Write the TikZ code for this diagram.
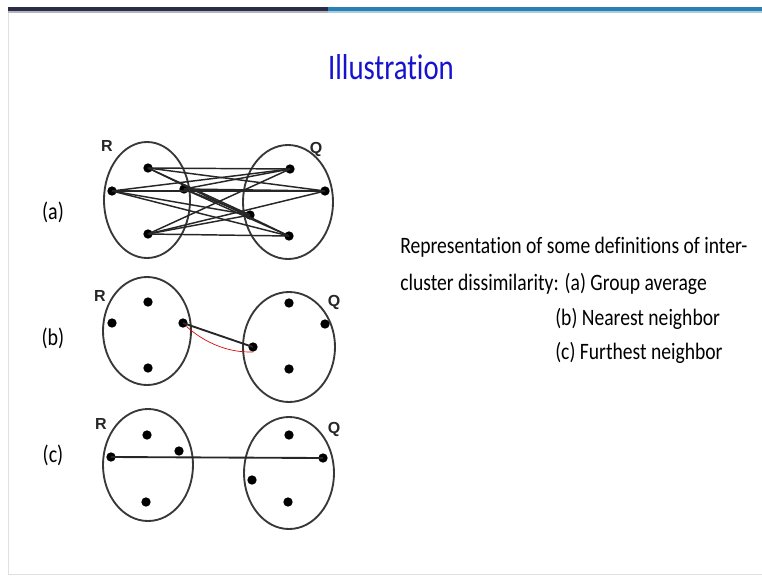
\documentclass[tikz,border=0pt]{standalone}
\usepackage{fontspec}
\setmainfont[Ligatures=NoCommon]{Carlito}
\newfontfamily\clusterfont{Liberation Sans}
\definecolor{titleblue}{RGB}{22,18,205}
\definecolor{bardark}{RGB}{42,44,72}
\definecolor{barblue}{RGB}{42,128,178}
\tikzset{
  dot/.style={circle,fill=black,inner sep=0pt,minimum size=7pt},
  cluster/.style={draw=black!78,line width=1.4pt},
  link/.style={black!85,line width=1.1pt},
  clustername/.style={font=\clusterfont\bfseries\fontsize{12}{14}\selectfont,text=black!85},
  partname/.style={yscale=1.2,transform shape,font=\fontsize{15}{17}\selectfont},
  caption/.style={anchor=base west,inner sep=0pt,yscale=1.2,transform shape,
                  font=\fontsize{14.7}{17}\selectfont}
}
\begin{document}
\begin{tikzpicture}[x=0.75pt,y=-0.75pt]
  \useasboundingbox (0,0) rectangle (762,575);
  % slide frame
  \fill[bardark] (8,7) rectangle (328,11);
  \fill[barblue] (328,7) rectangle (762,11);
  \fill[bardark!35] (8,11) rectangle (328,12.5);
  \fill[barblue!40] (328,11) rectangle (762,12.5);
  \draw[black!12] (8,12.5) -- (8,574) -- (762,574);
  \node[yscale=1.25,transform shape,font=\fontsize{21.6}{26}\selectfont,text=titleblue] (title) at (391,67) {Illustration};

  % (a) group average
  \draw[cluster] (147,200) ellipse [x radius=43, y radius=58];
  \draw[cluster] (288,202) ellipse [x radius=45, y radius=57];
  \foreach \name/\px/\py in {ra1/148/168,ra2/112/191,ra3/184/189,ra4/148/234,
                             qa1/290/169,qa2/325/191,qa3/250/215,qa4/289/236}
    \node[dot] (\name) at (\px,\py) {};
  \foreach \r in {ra1,ra2,ra3,ra4}
    \foreach \q in {qa1,qa2,qa3,qa4}
      \draw[link] (\r.center) -- (\q.center);
  \node[clustername] (ra) at (107,146) {R};
  \node[clustername] (qa) at (316,149) {Q};
  \node[partname] (parta) at (53,212) {(a)};

  % (b) nearest neighbor
  \draw[cluster] (147,331) ellipse [x radius=44, y radius=54];
  \draw[cluster] (289,347) ellipse [x radius=46, y radius=55];
  \foreach \name/\px/\py in {rb1/148/302,rb2/112/323,rb3/183/323,rb4/148/368,
                             qb1/289/303,qb2/325/324,qb3/253/347,qb4/289/369}
    \node[dot] (\name) at (\px,\py) {};
  \draw[link,line width=1.4pt] (rb3.center) -- (qb3.center);
  \draw[red!85!black,line width=0.5pt] (rb3.south east) .. controls +(18,16) and +(-25,1) .. (qb3.south);
  \node[clustername] (rb) at (100,296) {R};
  \node[clustername] (qb) at (334,302) {Q};
  \node[partname] (partb) at (53,338) {(b)};

  % (c) furthest neighbor
  \draw[cluster] (148,465) ellipse [x radius=45, y radius=56];
  \draw[cluster] (289,473) ellipse [x radius=45, y radius=56];
  \foreach \name/\px/\py in {rc1/147/435,rc2/111/457,rc3/179/451,rc4/146/502,
                             qc1/289/435,qc2/323/458,qc3/252/480,qc4/288/502}
    \node[dot] (\name) at (\px,\py) {};
  \draw[link,line width=1.4pt] (rc2.center) -- (qc2.center);
  \node[clustername] (rc) at (101,424) {R};
  \node[clustername] (qc) at (334,429) {Q};
  \node[partname] (partc) at (53,455) {(c)};

  % caption
  \node[caption] (line1) at (400,253) {Representation of some definitions of inter-};
  \node[caption] (line2) at (400,290) {cluster dissimilarity: (a) Group average};
  \node[caption] (line3) at (555,325) {(b) Nearest neighbor};
  \node[caption] (line4) at (555,359) {(c) Furthest neighbor};
\end{tikzpicture}
\end{document}
